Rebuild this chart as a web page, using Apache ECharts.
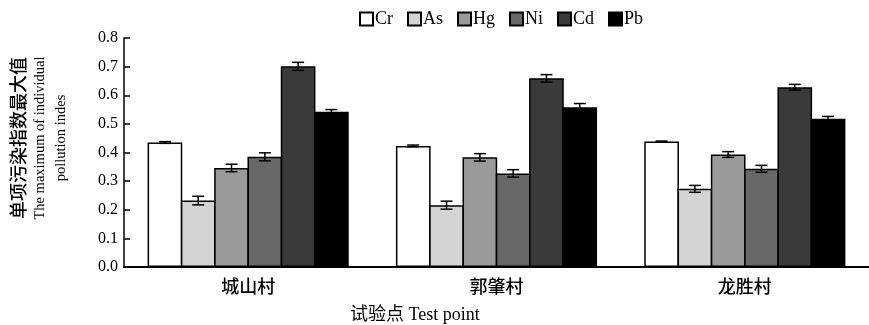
<!DOCTYPE html>
<html>
<head>
<meta charset="utf-8">
<script src="https://cdn.jsdelivr.net/npm/echarts@6/dist/echarts.min.js"></script>
<style>
html, body { margin: 0; padding: 0; background: #fff; }
#chart { width: 869px; height: 325px; }
</style>
</head>
<body>
<div id="chart"></div>
<script>
const sites = ["城山村", "郭肇村", "龙胜村"]
const metals = ["Cr", "As", "Hg", "Ni", "Cd", "Pb"]
const colors = ["#ffffff", "#d4d4d4", "#9a9a9a", "#686868", "#3a3a3a", "#000000"]
// 每种元素在三个试验点的数值
const Cr = [0.435, 0.423, 0.438]
const As = [0.232, 0.216, 0.273]
const Hg = [0.346, 0.383, 0.393]
const Ni = [0.385, 0.327, 0.343]
const Cd = [0.701, 0.659, 0.628]
const Pb = [0.542, 0.558, 0.518]
// 误差
const CrErr = [0.003, 0.003, 0.002]
const AsErr = [0.015, 0.014, 0.012]
const HgErr = [0.013, 0.013, 0.010]
const NiErr = [0.014, 0.013, 0.012]
const CdErr = [0.014, 0.013, 0.010]
const PbErr = [0.008, 0.013, 0.008]
const yTicks = ["0.0", "0.1", "0.2", "0.3", "0.4", "0.5", "0.6", "0.7", "0.8"]

const values = [Cr, As, Hg, Ni, Cd, Pb]
const errors = [CrErr, AsErr, HgErr, NiErr, CdErr, PbErr]
const gapRatio = 0.19
const barGap = -0.04

let errData = []
values.forEach((arr, k) => {
    arr.forEach((v, i) => {
        errData.push([i, k, v, errors[k][i]])
    })
})

const serif = "'Liberation Serif', 'Noto Sans CJK SC', serif"
const cjk = "'Noto Sans CJK SC', sans-serif"

let myChart = echarts.init(document.getElementById("chart"))
myChart.setOption({
    animation: false,
    legend: {
        top: 5,
        left: 354,
        icon: "rect",
        itemWidth: 13,
        itemHeight: 13,
        itemGap: 14,
        data: metals,
        textStyle: { fontFamily: serif, fontSize: 18, color: "#000", padding: [0, 0, 0, -3] }
    },
    grid: {
        left: 124,
        right: 0,
        top: 38,
        bottom: 58,
        outerBoundsMode: "none"
    },
    xAxis: {
        type: "category",
        data: sites,
        axisLine: { lineStyle: { color: "#000", width: 2 } },
        axisTick: { show: false },
        axisLabel: { fontFamily: cjk, fontSize: 18, fontWeight: 500, color: "#000", margin: 10 }
    },
    yAxis: {
        type: "value",
        min: 0,
        max: 0.8,
        interval: 0.1,
        splitLine: { show: false },
        axisLine: { show: true, lineStyle: { color: "#000", width: 1.5 } },
        axisTick: { show: true, inside: true, length: 6, lineStyle: { color: "#000", width: 1.5 } },
        axisLabel: {
            fontFamily: serif, fontSize: 16, color: "#000", margin: 6,
            formatter: (v) => yTicks[Math.round(v * 10)]
        }
    },
    graphic: [
        {
            type: "text", x: 18, y: 138, rotation: Math.PI / 2,
            style: { text: "单项污染指数最大值", font: "500 18px " + cjk, fill: "#000", align: "center", verticalAlign: "middle" }
        },
        {
            type: "text", x: 40, y: 138, rotation: Math.PI / 2,
            style: { text: "The maximum of individual", font: "14.5px " + serif, fill: "#000", align: "center", verticalAlign: "middle" }
        },
        {
            type: "text", x: 61, y: 138, rotation: Math.PI / 2,
            style: { text: "pollution indes", font: "14.5px " + serif, fill: "#000", align: "center", verticalAlign: "middle" }
        },
        {
            type: "text", left: 350, top: 306,
            style: { text: "试验点 Test point", font: "18px " + serif, fill: "#000" }
        }
    ],
    series: metals.map((m, k) => ({
        name: m,
        type: "bar",
        data: values[k],
        barGap: (barGap * 100) + "%",
        barCategoryGap: (gapRatio * 100) + "%",
        itemStyle: { color: colors[k], borderColor: "#000", borderWidth: 1.5 }
    })).concat([{
        type: "custom",
        data: errData,
        encode: { x: 0, y: 2 },
        z: 10,
        renderItem: (params, api) => {
            const band = api.size([1, 0])[0]
            const groupW = band * (1 - gapRatio)
            const barW = groupW / (6 + 5 * barGap)
            const step = barW * (1 + barGap)
            const k = api.value(1)
            const v = api.value(2)
            const e = api.value(3)
            const base = api.coord([api.value(0), 0])
            const x = base[0] - groupW / 2 + barW / 2 + step * k
            const yHi = api.coord([api.value(0), v + e])[1]
            const yLo = api.coord([api.value(0), v - e])[1]
            const cap = 6
            const style = { stroke: "#000", lineWidth: 1.5 }
            return {
                type: "group",
                children: [
                    { type: "line", shape: { x1: x, y1: yHi, x2: x, y2: yLo }, style },
                    { type: "line", shape: { x1: x - cap, y1: yHi, x2: x + cap, y2: yHi }, style },
                    { type: "line", shape: { x1: x - cap, y1: yLo, x2: x + cap, y2: yLo }, style }
                ]
            }
        }
    }])
})
</script>
</body>
</html>
